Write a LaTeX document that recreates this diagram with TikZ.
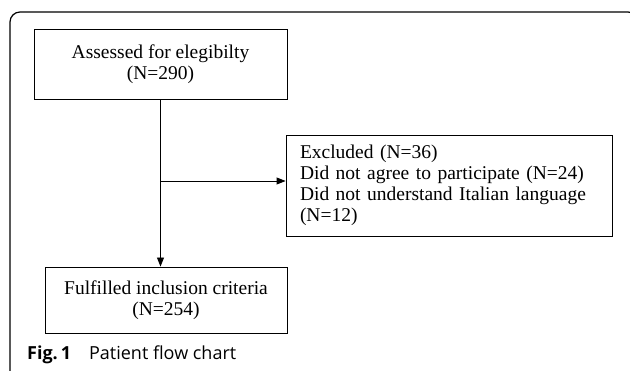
\documentclass[tikz,border=0pt]{standalone}
\usepackage{fontspec}
\setmainfont{Liberation Serif}
\newfontfamily\capfont{Open Sans}
\usetikzlibrary{arrows.meta}

\tikzset{
	flowbox/.style = {draw, line width=0.9pt, align=center, inner sep=0pt,
		font=\fontsize{19.5}{21}\selectfont},
	flowarrow/.style = {line width=0.9pt, -{Triangle[length=9pt, width=7pt]}}
}

\begin{document}
\begin{tikzpicture}[x=1pt, y=-1pt]
	\useasboundingbox (0,0) rectangle (630,371);

	% outer frame, only top and left side visible
	\begin{scope}
		\clip (0,0) rectangle (630,371);
		\draw[line width=1.2pt, rounded corners=10pt] (10,380) -- (10,12) -- (638,12) -- (638,380);
	\end{scope}

	\node[flowbox, minimum width=253pt, minimum height=70pt] (assess) at (160.5,64)
		{Assessed for elegibilty\\(N=290)};

	\node[flowbox, minimum width=326pt, minimum height=101pt, align=left,
		text width=298pt] (excl) at (449,185.5)
		{Excluded (N=36)\\Did not agree to participate (N=24)\\Did not understand Italian language\\(N=12)};

	\node[flowbox, minimum width=242pt, minimum height=66pt] (incl) at (166,300)
		{Fulfilled inclusion criteria\\(N=254)};

	\coordinate (split) at (160.5,181);

	\draw[flowarrow] (assess.south) -- (assess.south |- incl.north);
	\draw[flowarrow] (split) -- (split -| excl.west);

	\node[anchor=base west, inner sep=0pt, font=\capfont\fontsize{18}{20}\selectfont] (caption) at (27,360)
		{\textbf{Fig.\,1}\quad Patient flow chart};
\end{tikzpicture}
\end{document}
